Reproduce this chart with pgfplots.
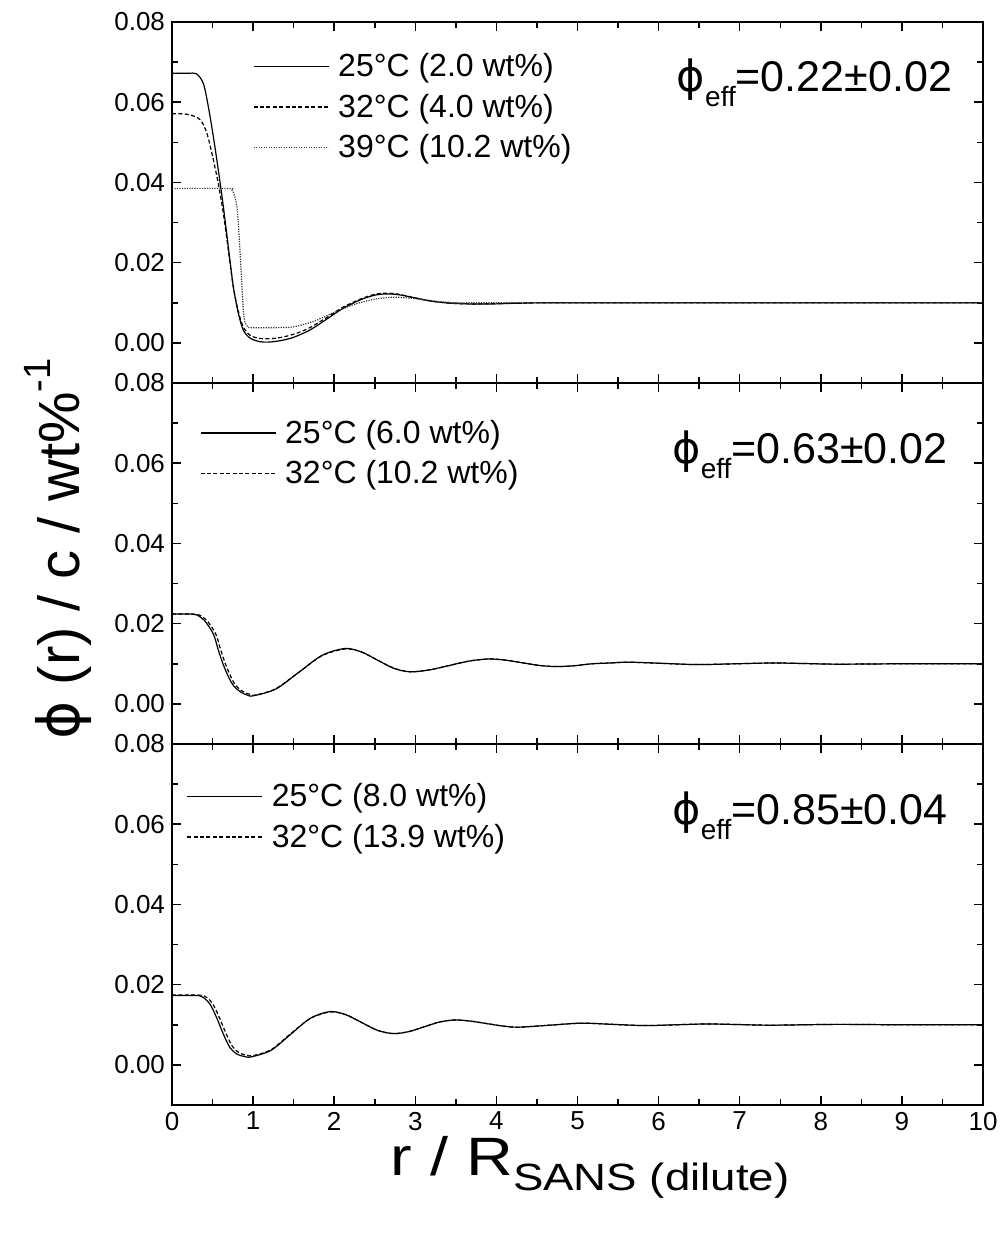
\documentclass[border=0pt]{standalone}
\usepackage{graphicx}
\usepackage{fontspec}
\setmainfont{Liberation Sans}
\newfontfamily\dejavu{DejaVu Sans}
\usepackage{pgfplots}
\pgfplotsset{compat=1.18}

\pgfplotsset{
  panel/.style={
    scale only axis, width=405.5pt, height=180.5pt,
    xmin=0, xmax=10, ymin=-0.01, ymax=0.08,
    xtick={0,1,...,10}, minor x tick num=1,
    ytick={0,0.02,0.04,0.06,0.08},
    minor ytick={-0.01,0.01,0.03,0.05,0.07},
    tick align=inside, tick pos=both,
    major tick length=4.5pt, minor tick length=3pt,
    axis line style={line width=1pt},
    every tick/.style={line width=0.75pt, black},
    scaled y ticks=false,
    /pgf/number format/assume math mode=true,
    yticklabel style={/pgf/number format/.cd, fixed, fixed zerofill, precision=2},
    tick label style={font=\fontsize{13}{15}\selectfont},
    legend cell align=left,
    legend image code/.code={\draw[#1] (0pt,0pt) -- (37.5pt,0pt);},
    legend style={draw=none, fill=none, inner sep=0pt, outer sep=0pt,
      font=\fontsize{16}{18}\selectfont, row sep=7pt, column sep=4.5pt,
      nodes={inner sep=0pt}},
  },
  s25/.style={black, line width=0.6pt, smooth},
  s32/.style={black, line width=0.6pt, smooth, dash pattern=on 2pt off 1.2pt},
  s39/.style={black!80, line width=0.6pt, smooth, dash pattern=on 0.6pt off 0.65pt},
}

\begin{document}
\begin{tikzpicture}
% ---------------- top panel
\begin{axis}[panel, at={(0pt,361pt)}, xticklabels={},
  legend style={at={(0.0999,0.912)}, anchor=north west}]
\addplot[s25] coordinates {(0,0.0672)(0.2,0.0672)(0.30,0.0671)(0.386,0.0647)(0.448,0.0589)(0.51,0.0514)(0.571,0.0431)(0.633,0.0340)(0.694,0.0240)(0.756,0.0140)(0.818,0.0074)(0.879,0.0032)(0.962,0.0012)(1.085,0.0003)(1.2,0.0002)(1.35,0.0006)(1.5,0.0014)(1.7,0.0032)(1.9,0.0058)(2.1,0.0085)(2.32,0.0107)(2.5,0.0119)(2.65,0.0122)(2.8,0.0120)(3.0,0.0112)(3.2,0.0104)(3.43,0.0099)(3.7,0.0097)(3.95,0.0097)(4.3,0.0099)(5,0.0100)(10,0.0100)};
\addlegendentry{25°C (2.0 wt\%)}
\addplot[s32] coordinates {(0,0.0571)(0.15,0.0571)(0.26,0.0566)(0.35,0.0556)(0.43,0.0523)(0.51,0.0456)(0.57,0.0398)(0.633,0.0323)(0.694,0.0232)(0.756,0.0140)(0.818,0.0078)(0.879,0.0040)(0.962,0.0019)(1.085,0.0011)(1.25,0.0011)(1.4,0.0016)(1.55,0.0025)(1.7,0.0038)(1.9,0.0062)(2.1,0.0088)(2.32,0.0109)(2.5,0.0121)(2.65,0.0124)(2.8,0.0121)(3.0,0.0112)(3.2,0.0104)(3.43,0.0099)(3.7,0.0097)(3.95,0.0098)(4.3,0.0099)(5,0.0100)(10,0.0100)};
\addlegendentry{32°C (4.0 wt\%)}
\addplot[s39] coordinates {(0,0.0385)(0.70,0.0385)(0.74,0.0381)(0.77,0.0368)(0.80,0.0340)(0.82,0.0290)(0.84,0.0224)(0.86,0.0150)(0.88,0.0080)(0.90,0.0052)(0.93,0.0041)(0.97,0.0038)(1.3,0.0038)(1.5,0.0040)(1.75,0.0054)(2.0,0.0076)(2.25,0.0096)(2.5,0.0109)(2.75,0.0114)(3.0,0.0110)(3.3,0.0103)(3.6,0.0099)(4,0.0100)(10,0.0100)};
\addlegendentry{39°C (10.2 wt\%)}
\node[anchor=base west, inner sep=0pt, font=\fontsize{21.5}{23}\selectfont] at (axis description cs:0.622,0.807) {{\dejavu ϕ}\raisebox{-7.5pt}{\fontsize{14}{15}\selectfont eff}=0.22±0.02};
\end{axis}
% ---------------- middle panel
\begin{axis}[panel, at={(0pt,180.5pt)}, xticklabels={},
  legend style={at={(0.0345,0.898)}, anchor=north west}]
\addplot[s25] coordinates {(0,0.0224)(0.2,0.0224)(0.30,0.0222)(0.40,0.0208)(0.51,0.0174)(0.57,0.0135)(0.63,0.0099)(0.70,0.0066)(0.76,0.0045)(0.85,0.0029)(0.93,0.0022)(1.00,0.0020)(1.28,0.0037)(1.565,0.0079)(1.85,0.0121)(2.13,0.0138)(2.33,0.0130)(2.535,0.0109)(2.74,0.0088)(2.94,0.0080)(3.18,0.0085)(3.425,0.0096)(3.67,0.0107)(3.91,0.0112)(4.115,0.0109)(4.32,0.01025)(4.525,0.0096)(4.73,0.0093)(4.955,0.0095)(5.18,0.0100)(5.405,0.0102)(5.63,0.0104)(6.05,0.0101)(6.48,0.0098)(6.95,0.0100)(7.42,0.0102)(7.82,0.01005)(8.22,0.0099)(9.0,0.0100)(10,0.0100)};
\addlegendentry{25°C (6.0 wt\%)}
\addplot[s32] coordinates {(0,0.0224)(0.23,0.0224)(0.33,0.0222)(0.43,0.0208)(0.54,0.0174)(0.60,0.0135)(0.66,0.0099)(0.73,0.0066)(0.79,0.0045)(0.88,0.0030)(0.96,0.0024)(1.03,0.0022)(1.28,0.0038)(1.565,0.0079)(1.85,0.0120)(2.13,0.0137)(2.33,0.0130)(2.535,0.0109)(2.74,0.0089)(2.94,0.0080)(3.18,0.0085)(3.425,0.0096)(3.67,0.0107)(3.91,0.0112)(4.115,0.0109)(4.32,0.01025)(4.525,0.0096)(4.73,0.0093)(4.955,0.0095)(5.18,0.0100)(5.405,0.0102)(5.63,0.0104)(6.05,0.0101)(6.48,0.0098)(6.95,0.0100)(7.42,0.0102)(7.82,0.01005)(8.22,0.0099)(9.0,0.0100)(10,0.0100)};
\addlegendentry{32°C (10.2 wt\%)}
\node[anchor=base west, inner sep=0pt, font=\fontsize{21.5}{23}\selectfont] at (axis description cs:0.6165,0.776) {{\dejavu ϕ}\raisebox{-7.5pt}{\fontsize{14}{15}\selectfont eff}=0.63±0.02};
\end{axis}
% ---------------- bottom panel
\begin{axis}[panel, at={(0pt,0pt)},
  legend style={at={(0.018,0.89)}, anchor=north west}]
\addplot[s25] coordinates {(0,0.0173)(0.3,0.0173)(0.345,0.0172)(0.40,0.0166)(0.47,0.0151)(0.55,0.0118)(0.633,0.0077)(0.715,0.0043)(0.80,0.0027)(0.89,0.0021)(0.98,0.0020)(1.2225,0.00365)(1.465,0.00765)(1.7075,0.01165)(1.95,0.0133)(2.145,0.0125)(2.34,0.01055)(2.535,0.0086)(2.73,0.0078)(2.92,0.0083)(3.11,0.0095)(3.30,0.0107)(3.49,0.0112)(3.685,0.0109)(3.88,0.0103)(4.075,0.0097)(4.27,0.0094)(4.66,0.0099)(5.05,0.0104)(5.44,0.0101)(5.83,0.0098)(6.215,0.0100)(6.6,0.0102)(7.0,0.01005)(7.4,0.0099)(8.2,0.0101)(9.0,0.0100)(10,0.0100)};
\addlegendentry{25°C (8.0 wt\%)}
\addplot[s32] coordinates {(0,0.0174)(0.33,0.0174)(0.375,0.0173)(0.43,0.0168)(0.50,0.0153)(0.58,0.0120)(0.663,0.0080)(0.745,0.0046)(0.83,0.0030)(0.92,0.0024)(1.0,0.0023)(1.2225,0.0038)(1.465,0.0078)(1.7075,0.0116)(1.95,0.0132)(2.145,0.0125)(2.34,0.01055)(2.535,0.0086)(2.73,0.0078)(2.92,0.0083)(3.11,0.0095)(3.30,0.0107)(3.49,0.0112)(3.685,0.0109)(3.88,0.0103)(4.075,0.0097)(4.27,0.0094)(4.66,0.0099)(5.05,0.0104)(5.44,0.0101)(5.83,0.0098)(6.215,0.0100)(6.6,0.0102)(7.0,0.01005)(7.4,0.0099)(8.2,0.0101)(9.0,0.0100)(10,0.0100)};
\addlegendentry{32°C (13.9 wt\%)}
\node[anchor=base west, inner sep=0pt, font=\fontsize{21.5}{23}\selectfont] at (axis description cs:0.6165,0.777) {{\dejavu ϕ}\raisebox{-7.5pt}{\fontsize{14}{15}\selectfont eff}=0.85±0.04};
\end{axis}
% ---------------- axis titles
\node[rotate=90, inner sep=0pt, font=\fontsize{29}{32}\selectfont] at (-57pt,278pt) {{\dejavu ϕ} (r) / c / wt\%\raisebox{0.5em}{\fontsize{19}{19}\selectfont -1}};
\node[anchor=base, inner sep=0pt, font=\fontsize{27}{28}\selectfont] at (209pt,-35pt) {\scalebox{1.2}[1]{r / R\raisebox{-7.5pt}{\fontsize{19}{20}\selectfont SANS (dilute)}}};
\pgfresetboundingbox
\path[use as bounding box] (-86pt,-65.5pt) rectangle (415.5pt,552.5pt);
\end{tikzpicture}
\end{document}
